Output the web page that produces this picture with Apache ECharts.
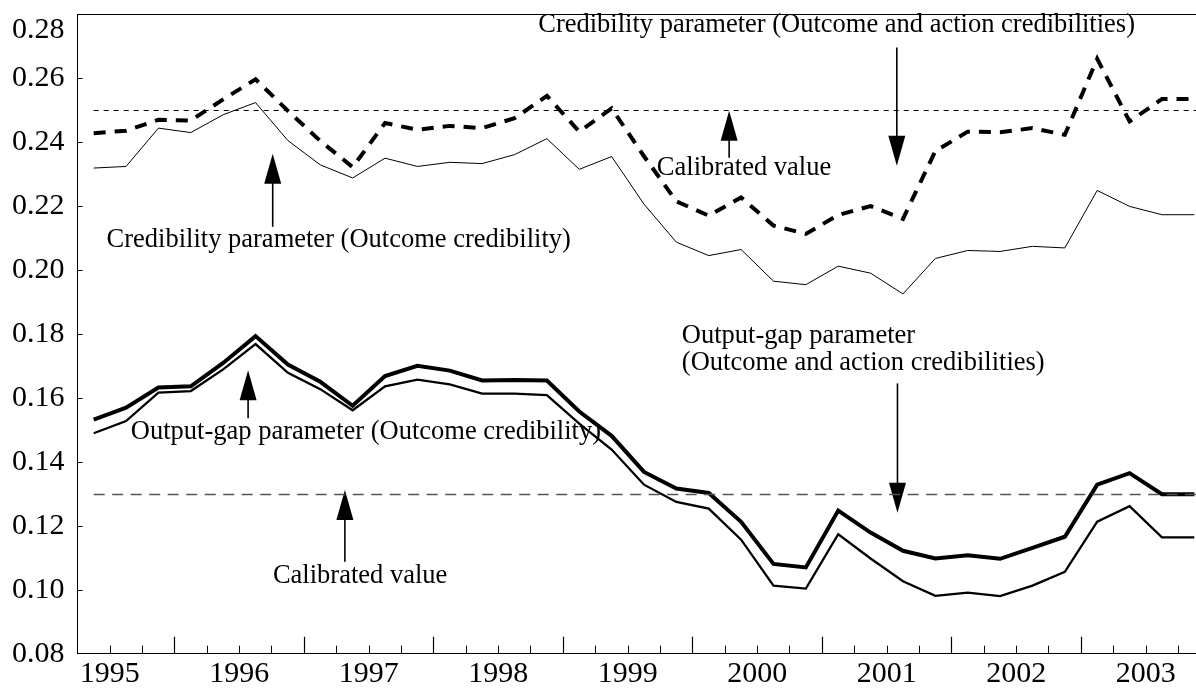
<!DOCTYPE html>
<html><head><meta charset="utf-8">
<script src="https://cdn.jsdelivr.net/npm/echarts@6/dist/echarts.min.js"></script>
<style>html,body{margin:0;padding:0;background:#fff}#c{width:1196px;height:688px}</style>
</head><body><div id="c"></div>
<script>
// Quarterly observations, 1995Q2 - 2003Q4
const quarters = ['1995Q2','1995Q3','1995Q4','1996Q1','1996Q2','1996Q3','1996Q4','1997Q1','1997Q2','1997Q3','1997Q4',
  '1998Q1','1998Q2','1998Q3','1998Q4','1999Q1','1999Q2','1999Q3','1999Q4','2000Q1','2000Q2','2000Q3','2000Q4',
  '2001Q1','2001Q2','2001Q3','2001Q4','2002Q1','2002Q2','2002Q3','2002Q4','2003Q1','2003Q2','2003Q3','2003Q4'];
const yearLabels = ['1995','1996','1997','1998','1999','2000','2001','2002','2003'];
const yTicks = {min: 0.08, max: 0.28, step: 0.02};

// Credibility parameter (Outcome and action credibilities) - thick dashed
const credOutcomeAction = [0.2429,0.2437,0.2471,0.2469,0.2535,0.2598,0.2499,0.2405,0.2323,0.2461,0.2440,0.2452,0.2445,0.2476,0.2546,0.2434,0.2507,
  0.2357,0.2216,0.2171,0.2228,0.2140,0.2114,0.2173,0.2201,0.2161,0.2373,0.2434,0.2432,0.2445,0.2424,0.2662,0.2466,0.2536,0.2536];
// Credibility parameter (Outcome credibility) - thin solid
const credOutcome = [0.2320,0.2325,0.2445,0.2431,0.2487,0.2525,0.2406,0.2330,0.2289,0.2351,0.2325,0.2338,0.2334,0.2362,0.2412,0.2316,0.2356,
  0.2207,0.2088,0.2046,0.2065,0.1966,0.1955,0.2013,0.1991,0.1926,0.2037,0.2062,0.2059,0.2075,0.2070,0.2250,0.2200,0.2174,0.2174];
// Output-gap parameter (Outcome and action credibilities) - thick solid
const ogOutcomeAction = [0.1533,0.1570,0.1633,0.1637,0.1710,0.1794,0.1705,0.1651,0.1576,0.1669,0.1701,0.1686,0.1655,0.1657,0.1655,0.1558,0.1482,
  0.1369,0.1317,0.1303,0.1213,0.1081,0.1070,0.1248,0.1179,0.1122,0.1098,0.1108,0.1097,0.1131,0.1166,0.1329,0.1365,0.1299,0.1299];
// Output-gap parameter (Outcome credibility) - medium solid
const ogOutcome = [0.1490,0.1528,0.1617,0.1622,0.1690,0.1769,0.1679,0.1628,0.1562,0.1637,0.1658,0.1643,0.1614,0.1614,0.1609,0.1520,0.1439,
  0.1329,0.1275,0.1254,0.1157,0.1013,0.1004,0.1174,0.1098,0.1027,0.0981,0.0991,0.0980,0.1013,0.1056,0.1213,0.1262,0.1164,0.1164];
// Calibrated values
const calibratedCred = 0.25;
const calibratedOG = 0.13;

// Annotations (data coordinates: quarter index, value)
const arrows = [ // [x, tail value, tip value]
  [24.81, 0.2697, 0.2327],
  [19.63, 0.2352, 0.2499],
  [5.53, 0.2136, 0.2365],
  [4.77, 0.1537, 0.1687],
  [7.76, 0.1088, 0.1312],
  [24.83, 0.1646, 0.1241]
];
const notes = [ // [x, value, text, align]
  [22.95, 0.2767, 'Credibility parameter (Outcome and action credibilities)', 'center'],
  [20.09, 0.2319, 'Calibrated value', 'center'],
  [7.57, 0.2095, 'Credibility parameter (Outcome credibility)', 'center'],
  [8.41, 0.1494, 'Output-gap parameter (Outcome credibility)', 'center'],
  [8.23, 0.1043, 'Calibrated value', 'center'],
  [18.17, 0.1793, 'Output-gap parameter', 'left'],
  [18.17, 0.1709, '(Outcome and action credibilities)', 'left']
];

const FONT = '"Liberation Serif", "Times New Roman", serif';
const boundaryLabels = [];
for (let j = 0; j <= quarters.length; j++) {
  boundaryLabels.push((j % 4 === 1) ? yearLabels[(j - 1) / 4] : '');
}
const boundaryCats = boundaryLabels.map((s, i) => 'b' + i);
const pairs = arr => arr.map((v, i) => [i, v]);

const chart = echarts.init(document.getElementById('c'), null, {renderer: 'canvas'});
const tickAxisBase = {
  type: 'category', data: boundaryCats, boundaryGap: false, position: 'bottom', gridIndex: 0
};
chart.setOption({
  animation: false,
  backgroundColor: '#fff',
  grid: {left: 77.5, top: 14.7, right: -14.5, bottom: 34.3, containLabel: false, outerBoundsMode: 'none'},
  xAxis: [
    {type: 'value', min: -0.5, max: quarters.length - 0.5, show: false, position: 'bottom'},
    Object.assign({}, tickAxisBase, {
      axisLine: {show: true, onZero: false, lineStyle: {color: '#000', width: 1}},
      axisTick: {show: true, inside: true, length: 8, interval: 0, lineStyle: {color: '#000', width: 1}},
      axisLabel: {show: true, interval: 0, margin: 5, color: '#000', fontSize: 30, fontFamily: FONT,
        formatter: (v, i) => boundaryLabels[i]},
      splitLine: {show: false}
    }),
    Object.assign({}, tickAxisBase, {
      axisLine: {show: false},
      axisTick: {show: true, inside: true, length: 17, interval: i => i % 4 === 3, lineStyle: {color: '#000', width: 1.2}},
      axisLabel: {show: false},
      splitLine: {show: false}
    }),
    Object.assign({}, tickAxisBase, {
      position: 'top',
      axisLine: {show: true, onZero: false, lineStyle: {color: '#000', width: 1}},
      axisTick: {show: false}, axisLabel: {show: false}, splitLine: {show: false}
    })
  ],
  yAxis: [{
    type: 'value', min: yTicks.min, max: yTicks.max, interval: yTicks.step, position: 'left',
    axisLine: {show: true, onZero: false, lineStyle: {color: '#000', width: 1}},
    axisTick: {show: true, inside: true, length: 5, lineStyle: {color: '#000'}},
    splitLine: {show: false},
    axisLabel: {color: '#000', fontSize: 30, fontFamily: FONT, margin: 13,
      formatter: v => Math.abs(v - yTicks.max) < 1e-9 ? '{top|' + v.toFixed(2) + '}' : v.toFixed(2),
      rich: {top: {fontSize: 30, fontFamily: FONT, color: '#000', padding: [30, 0, 0, 0]}}}
  }],
  series: [
    {
      type: 'custom', name: 'notes', xAxisIndex: 0, yAxisIndex: 0, z: 1, clip: false,
      data: notes.map(n => [n[0], n[1], n[2], n[3]]),
      renderItem: (params, api) => {
        const n = notes[params.dataIndex];
        const p = api.coord([n[0], n[1]]);
        return {type: 'text', x: p[0], y: p[1],
          style: {text: n[2], fill: '#000', font: '26.5px ' + FONT, textAlign: n[3], textVerticalAlign: 'middle'}};
      }
    },
    {
      type: 'custom', name: 'arrows', xAxisIndex: 0, yAxisIndex: 0, z: 3, clip: false,
      data: arrows,
      renderItem: (params, api) => {
        const a = arrows[params.dataIndex];
        const p1 = api.coord([a[0], a[1]]);
        const p2 = api.coord([a[0], a[2]]);
        const dir = p2[1] > p1[1] ? 1 : -1;
        const headLen = 30, headW = 8.5;
        const base = p2[1] - dir * headLen;
        return {type: 'group', children: [
          {type: 'line', shape: {x1: p1[0], y1: p1[1], x2: p1[0], y2: base + dir * 2}, style: {stroke: '#000', lineWidth: 1.6}},
          {type: 'polygon', shape: {points: [[p2[0], p2[1]], [p2[0] - headW, base], [p2[0] + headW, base]]}, style: {fill: '#000'}}
        ]};
      }
    },
    {
      type: 'line', name: 'Calibrated credibility', xAxisIndex: 0, yAxisIndex: 0, z: 2, data: [],
      markLine: {silent: true, symbol: ['none', 'none'], label: {show: false},
        lineStyle: {color: '#000', width: 1, type: [5, 5]},
        data: [[{coord: [0, calibratedCred]}, {coord: [quarters.length - 0.5, calibratedCred]}]]}
    },
    {
      type: 'line', name: 'Calibrated output gap', xAxisIndex: 0, yAxisIndex: 0, z: 2, data: [],
      markLine: {silent: true, symbol: ['none', 'none'], label: {show: false},
        lineStyle: {color: '#555', width: 1.3, type: [11, 7.5]},
        data: [[{coord: [0, calibratedOG]}, {coord: [quarters.length - 0.5, calibratedOG]}]]}
    },
    {
      type: 'line', name: 'Credibility parameter (Outcome and action credibilities)', xAxisIndex: 0, yAxisIndex: 0, z: 4,
      data: pairs(credOutcomeAction), showSymbol: false, symbol: 'none',
      lineStyle: {color: '#000', width: 4, type: [12, 9], cap: 'butt', join: 'miter'}
    },
    {
      type: 'line', name: 'Credibility parameter (Outcome credibility)', xAxisIndex: 0, yAxisIndex: 0, z: 4,
      data: pairs(credOutcome), showSymbol: false, symbol: 'none',
      lineStyle: {color: '#000', width: 1, join: 'miter'}
    },
    {
      type: 'line', name: 'Output-gap parameter (Outcome and action credibilities)', xAxisIndex: 0, yAxisIndex: 0, z: 4,
      data: pairs(ogOutcomeAction), showSymbol: false, symbol: 'none',
      lineStyle: {color: '#000', width: 4, join: 'miter'}
    },
    {
      type: 'line', name: 'Output-gap parameter (Outcome credibility)', xAxisIndex: 0, yAxisIndex: 0, z: 4,
      data: pairs(ogOutcome), showSymbol: false, symbol: 'none',
      lineStyle: {color: '#000', width: 2.3, join: 'miter'}
    }
  ]
});
</script>
</body></html>
